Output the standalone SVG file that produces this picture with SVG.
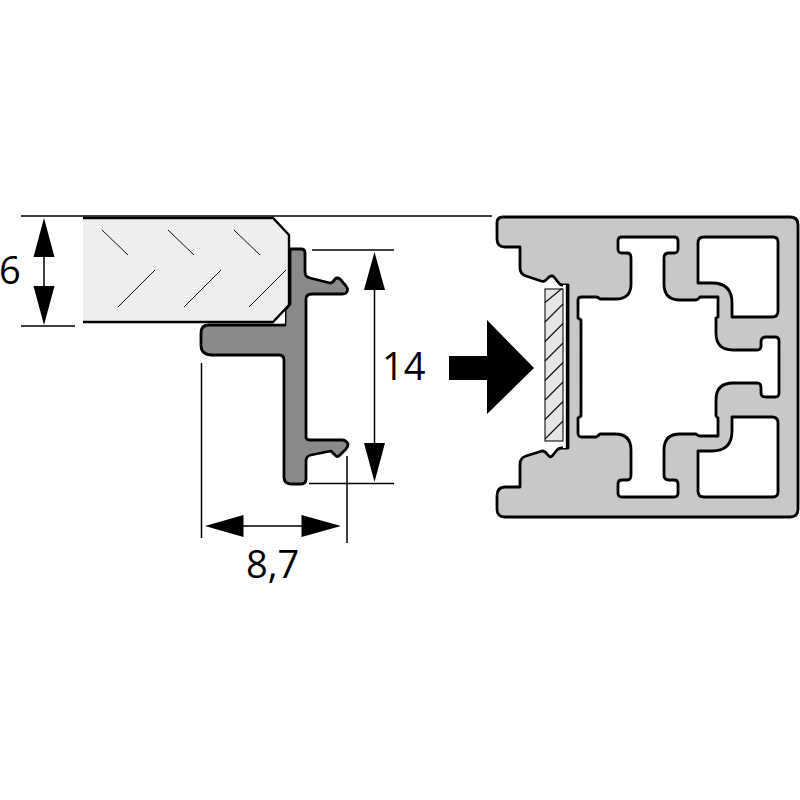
<svg xmlns="http://www.w3.org/2000/svg" width="800" height="800" viewBox="0 0 800 800">
<style>
.dim{stroke:#000;stroke-width:1.5;fill:none}
.thin{stroke:#111;stroke-width:1;fill:none}
.ah{fill:#000}
.hole{fill:#fff;stroke:#000;stroke-width:2.8;stroke-linejoin:round}
text{font-family:"Open Sans","DejaVu Sans",sans-serif;font-size:38px;fill:#000}
</style>
<defs>
<pattern id="dots" width="4" height="4" patternUnits="userSpaceOnUse"><rect width="4" height="4" fill="#efefef"/><rect x="1" y="1" width="1" height="1" fill="#e6e6e6"/></pattern>
</defs>
<rect width="800" height="800" fill="#fff"/>
<g id="t-profile">
<path d="M290 249H301Q305 249 305 253V272Q305 277 310 278L330 283Q333 283 335 279Q337 277 340 279L346 286Q349 290 346 293Q345 294 342 294H312Q306 294 306 299V437Q306 440 310 440H342Q346 440 348 444Q348 447 346 449L340 455Q337 458 335 455L331 451L311 455Q306 456 306 461V479Q306 484 301 484H291Q284 484 284 477V360Q284 355 279 355H212Q201 355 201 345V333Q201 325 209 325H285V310L290 304Z" fill="#8a8a8a" stroke="#000" stroke-width="2.8" stroke-linejoin="round"/>
<path d="M273 322L285 310V323.500H273Z" fill="#fff"/>
</g>
<g id="glass">
<path d="M83 218H273L289 235V305L273 322H83Z" fill="url(#dots)"/>
<path d="M83 218H273L289 235V305L273 322H83" fill="none" stroke="#000" stroke-width="2.4"/>
<path class="thin" d="M102 230L128 255M168 230L194 255M234 230L260 255M118 307L155 270M184 307L221 270M249 307L286 270"/>
</g>
<g id="aluminium-profile">
<path d="M503 217H790Q798 217 798 225V509Q798 517 790 517H505Q497 517 497 509V496Q497 487 505 487H520V464Q520 458 526 456L542 451Q545 451 547 454L549 456Q551 458 553 455L557 450Q559 448 562 448H568V285H562Q560 285 558 282L554 277Q552 275 549 277L546 280Q544 282 541 281L526 276Q520 274 520 268V247H505Q497 247 497 239V223Q497 217 503 217Z" fill="#c8c8c8" stroke="#000" stroke-width="2.8" stroke-linejoin="round"/>
<path class="hole" d="M581 320L578 318V300Q578 297 582 297H596Q598 297 600 299H616Q631 299 631 284V258Q631 253 627 253H622Q618 253 618 249V241Q618 237 622 237H674Q678 237 678 241V249Q678 253 674 253H669Q664 253 664 258V284Q664 300 680 300H695Q698 300 700 297H718V317L716 318V333Q716 350 733 350H757Q761 350 761 346V342Q761 337 766 337H775Q779 337 779 341V393Q779 397 775 397H766Q761 397 761 393V388Q761 383 757 383H733Q716 383 716 400V416L718 418V436H700Q698 436 696 434H680Q664 434 664 450V475Q664 480 669 480H674Q678 480 678 484V493Q678 497 674 497H622Q618 497 618 493V484Q618 480 622 480H627Q631 480 631 475V450Q631 434 615 434H600Q598 436 596 437H582Q578 437 578 433V418L581 416Z"/>
<path class="hole" d="M698 243Q698 237 704 237H773Q778 237 778 242V311Q778 317 772 317H732V303Q732 283 712 283H698Z"/>
<path class="hole" d="M732 417H772Q778 417 778 423V492Q778 497 773 497H704Q698 497 698 491V451H712Q732 451 732 431Z"/>
<rect x="563" y="285" width="4" height="163" fill="#fff"/>
<path d="M567 285V448" stroke="#000" stroke-width="2.4" fill="none"/>
</g>
<g id="mount-panel">
<rect x="545" y="289" width="18" height="152" fill="#e6e6e6" stroke="#222" stroke-width="1.2"/>
<path d="M545 302.500L562 288.500M545 322L563 304M545 341.500L563 323.500M545 361L563 343M545 380.500L563 362.500M545 400L563 382M545 419.500L563 401.500M545 439L563 421" stroke="#111" stroke-width="1.2" fill="none"/>
</g>
<g id="connectors">
<path class="dim" d="M21 216H492M21 326H75M44 250V295"/>
<polygon class="ah" points="44,218 54.500,257 33.500,257"/>
<polygon class="ah" points="44,325 54.500,286 33.500,286"/>
<path class="dim" d="M312 250H394M309 483.500H394M374.500 285V450"/>
<polygon class="ah" points="374.500,252 385,290 364,290"/>
<polygon class="ah" points="374.500,482 385,443 364,443"/>
<path class="dim" d="M201.500 363V538M347 456V543M235 526H310"/>
<polygon class="ah" points="205,526 243.500,515 243.500,537"/>
<polygon class="ah" points="341,526 301.500,515 301.500,537"/>
<polygon class="ah" points="449,356 487,356 487,320 534,368 487,414 487,380 449,380"/>
</g>
<g id="labels">
<text x="-1" y="284">6</text>
<text x="382" y="380">14</text>
<text x="246" y="578">8,7</text>
</g>
</svg>
